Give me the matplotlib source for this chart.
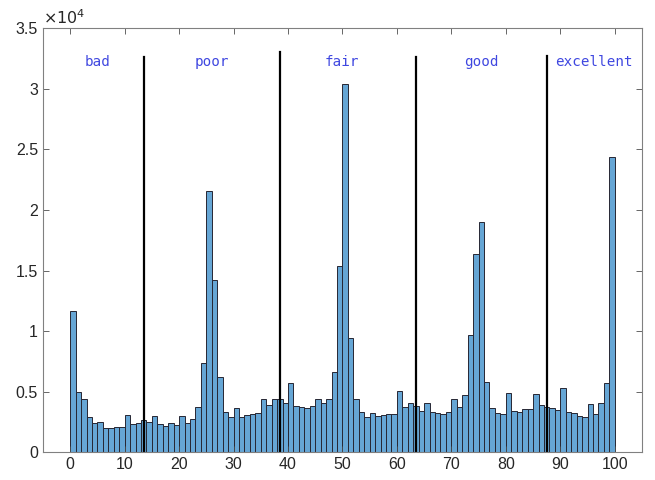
import numpy as np
import matplotlib
matplotlib.use("Agg")
import matplotlib.pyplot as plt
from matplotlib.ticker import FuncFormatter

# histogram counts for bins [0,1), [1,2), ..., [99,100]
counts = [
    11700, 5000, 4390, 2950, 2420, 2540, 2000, 2000, 2080, 2080,
    3130, 2350, 2470, 2670, 2540, 3010, 2350, 2200, 2420, 2270,
    3000, 2410, 2740, 3750, 7350, 21600, 14200, 6250, 3370, 2890,
    3650, 2900, 3120, 3200, 3260, 4410, 3920, 4410, 4410, 4110,
    5710, 3800, 3720, 3650, 3860, 4390, 4120, 4440, 6670, 15400,
    30350, 9420, 4430, 3380, 2910, 3230, 3010, 3070, 3150, 3210,
    5040, 3780, 4060, 3840, 3390, 4060, 3370, 3230, 3190, 3310,
    4430, 3780, 4700, 9690, 16400, 19000, 5790, 3640, 3230, 3150,
    4880, 3420, 3370, 3560, 3560, 4800, 3890, 3780, 3700, 3510,
    5350, 3310, 3230, 3040, 2960, 3970, 3150, 4060, 5760, 24350,
]
bin_edges = list(range(0, 101))

divider_x = [13.5, 38.5, 63.5, 87.5]
divider_top = [32600, 33000, 32600, 32700]

labels = ["bad", "poor", "fair", "good", "excellent"]
label_x = [5.1, 26.0, 49.9, 75.6, 96.1]
label_y = 32200

fig = plt.figure(figsize=(6.55, 4.8), dpi=100)
ax = fig.add_axes([0.0656, 0.0573, 0.9145, 0.8844])

face = (0.4, 0.65, 0.835)
ax.bar(bin_edges[:-1], counts, width=np.diff(bin_edges), align="edge",
       color=face, edgecolor=(0.15, 0.15, 0.2), linewidth=0.7)

for x, top in zip(divider_x, divider_top):
    ax.plot([x, x], [0, top], color="black", lw=1.6)

for lab, x in zip(labels, label_x):
    ax.text(x, label_y, lab, ha="center", va="center", color="#3F47E0",
            fontsize=10.3, family="DejaVu Sans Mono")

ax.set_xlim(-5, 105)
ax.set_ylim(0, 35000)
ax.set_xticks(range(0, 101, 10))
ax.set_yticks(range(0, 35001, 5000))
ax.yaxis.set_major_formatter(FuncFormatter(lambda v, p: "%g" % (v / 1e4)))

for s in ax.spines.values():
    s.set_color((0.5, 0.5, 0.5))
    s.set_linewidth(0.8)
ax.tick_params(direction="in", length=4, width=0.6, color=(0.3, 0.3, 0.3),
               top=True, right=True, labelsize=11.5, labelcolor=(0.15, 0.15, 0.15))
for t in ax.get_xticklabels() + ax.get_yticklabels():
    t.set_family("Liberation Sans")

ax.text(0.0, 1.003, r"$\times10^{4}$", transform=ax.transAxes, ha="left",
        va="bottom", fontsize=11.5, color=(0.15, 0.15, 0.15), family="Liberation Sans")

fig.savefig("out.png", dpi=100)
